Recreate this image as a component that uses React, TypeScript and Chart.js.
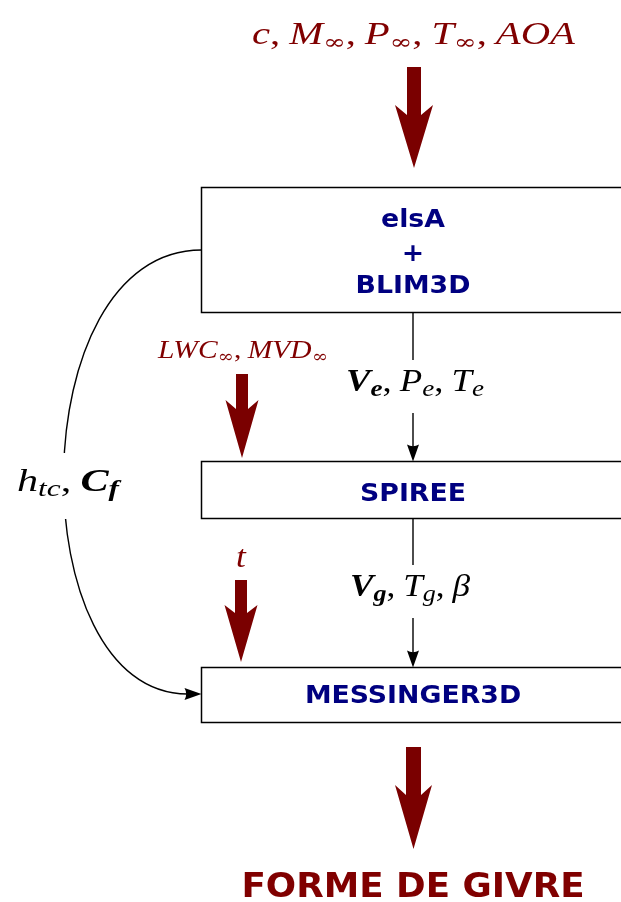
import React, { useEffect, useRef } from "react";
import { Chart, registerables } from "chart.js";
Chart.register(...registerables);

type Run = { t: string; it?: boolean; bf?: boolean; sub?: boolean; gap?: number; sym?: boolean };

// ---- content ----
const moduleNames: string[][] = [["elsA", "+", "BLIM3D"], ["SPIREE"], ["MESSINGER3D"]];
const INF: Run = { t: "∞", sub: true, sym: true };
const COMMA: Run = { t: ",", gap: 0.22 };
const freestreamLabel: Run[] = [
  { t: "c", it: true }, COMMA,
  { t: "M", it: true }, INF, COMMA,
  { t: "P", it: true }, INF, COMMA,
  { t: "T", it: true }, INF, COMMA,
  { t: "AOA", it: true },
];
const dropletLabel: Run[] = [
  { t: "LWC", it: true }, INF, COMMA,
  { t: "MVD", it: true }, INF,
];
const timeLabel: Run[] = [{ t: "t", it: true }];
const edgeLabel: Run[] = [
  { t: "V", it: true, bf: true }, { t: "e", it: true, bf: true, sub: true }, COMMA,
  { t: "P", it: true }, { t: "e", it: true, sub: true }, COMMA,
  { t: "T", it: true }, { t: "e", it: true, sub: true },
];
const wallLabel: Run[] = [
  { t: "V", it: true, bf: true }, { t: "g", it: true, bf: true, sub: true }, COMMA,
  { t: "T", it: true }, { t: "g", it: true, sub: true }, COMMA,
  { t: "β", it: true },
];
const feedbackLabel: Run[] = [
  { t: "h", it: true }, { t: "tc", it: true, sub: true }, COMMA,
  { t: "C", it: true, bf: true }, { t: "f", it: true, bf: true, sub: true },
];
const outputLabel = "FORME DE GIVRE";

// ---- layout (data-space coordinates, y downward) ----
const W = 621, H = 902;
const CX = 413;
const BOX_X0 = 201.5, BOX_X1 = 660;
const boxYs = [[187.5, 312.5], [461.5, 518.5], [667.5, 722.5]];
const moduleBaselines = [[227, 261, 293], [500.5], [703]];
const MODULE_FONT = 25;
const MODULE_SX = 1.07;
const NAVY = "#000080";
const MAROON = "#800000";
const ARROW_RED = "#7a0000";
const SERIF = '"Liberation Serif", "DejaVu Serif", serif';
const SYM = '"DejaVu Serif", serif';
const SANS = '"DejaVu Sans", sans-serif';

type Fat = { cx: number; top: number; barb: number; join: number; tip: number; sw: number; hw: number };
const fatArrows: Fat[] = [
  { cx: 414, top: 67, barb: 105, join: 115, tip: 168, sw: 7, hw: 19 },
  { cx: 242, top: 374, barb: 400, join: 409, tip: 458, sw: 6, hw: 16.5 },
  { cx: 241, top: 580, barb: 605, join: 613, tip: 662, sw: 6, hw: 16.5 },
  { cx: 413.5, top: 747, barb: 785, join: 795, tip: 849, sw: 7.5, hw: 18.5 },
];

type Place = { cx: number; base: number; size: number; w?: number };
const placeTop: Place = { cx: 413.5, base: 44, size: 31, w: 323 };
const placeDrop: Place = { cx: 243, base: 358, size: 25, w: 170 };
const placeTime: Place = { cx: 241, base: 567, size: 32 };
const placeEdge: Place = { cx: 415, base: 391, size: 31, w: 138 };
const placeWall: Place = { cx: 410, base: 596, size: 31, w: 120 };
const placeFeed: Place = { cx: 68, base: 491, size: 31, w: 102 };

function fontFor(r: Run, size: number) {
  const s = r.sub ? size * 0.74 : size;
  if (r.sym) return `${s * 0.9}px ${SYM}`;
  return `${r.it ? "italic " : ""}${r.bf ? "bold " : ""}${s}px ${SERIF}`;
}

function drawMath(ctx: CanvasRenderingContext2D, runs: Run[], p: Place, color: string, px: (v: number) => number, py: (v: number) => number) {
  const size = p.size;
  let total = 0;
  const widths: number[] = [];
  for (const r of runs) {
    ctx.font = fontFor(r, size);
    const w = ctx.measureText(r.t).width + (r.gap || 0) * size;
    widths.push(w);
    total += w;
  }
  const sx = p.w ? p.w / total : 1.1;
  const drawnW = total * sx;
  ctx.save();
  ctx.translate(px(p.cx) - drawnW / 2, py(p.base));
  ctx.scale(sx, 1);
  ctx.fillStyle = color;
  ctx.textAlign = "left";
  ctx.textBaseline = "alphabetic";
  let x = 0;
  runs.forEach((r, i) => {
    ctx.font = fontFor(r, size);
    ctx.fillText(r.t, x, r.sub ? size * 0.17 : 0);
    x += widths[i];
  });
  ctx.restore();
}

function drawStretched(ctx: CanvasRenderingContext2D, text: string, x: number, y: number, sx: number) {
  ctx.save();
  ctx.translate(x, y);
  ctx.scale(sx, 1);
  ctx.textAlign = "center";
  ctx.textBaseline = "alphabetic";
  ctx.fillText(text, 0, 0);
  ctx.restore();
}

const diagramPlugin = {
  id: "diagram",
  afterDraw(chart: any) {
    const ctx: CanvasRenderingContext2D = chart.ctx;
    const xs = chart.scales.x, ys = chart.scales.y;
    const px = (v: number) => xs.getPixelForValue(v);
    const py = (v: number) => ys.getPixelForValue(v);
    ctx.save();

    // boxes
    ctx.strokeStyle = "#000";
    ctx.lineWidth = 1.5;
    boxYs.forEach(([y0, y1]) => {
      ctx.strokeRect(px(BOX_X0), py(y0), px(BOX_X1) - px(BOX_X0), py(y1) - py(y0));
    });

    // module names
    ctx.fillStyle = NAVY;
    ctx.font = `bold ${MODULE_FONT}px ${SANS}`;
    moduleNames.forEach((lines, i) => {
      lines.forEach((ln, j) => drawStretched(ctx, ln, px(CX), py(moduleBaselines[i][j]), MODULE_SX));
    });

    // thin arrows
    const HL = 17, HW = 6;
    const headDown = (x: number, tipY: number) => {
      ctx.beginPath();
      ctx.moveTo(px(x), py(tipY));
      ctx.lineTo(px(x - HW), py(tipY - HL));
      ctx.quadraticCurveTo(px(x), py(tipY - HL * 0.8), px(x + HW), py(tipY - HL));
      ctx.closePath();
      ctx.fillStyle = "#000";
      ctx.fill();
    };
    const seg = (x0: number, y0: number, x1: number, y1: number) => {
      ctx.beginPath();
      ctx.moveTo(px(x0), py(y0));
      ctx.lineTo(px(x1), py(y1));
      ctx.stroke();
    };
    ctx.lineWidth = 1.4;
    seg(CX, boxYs[0][1], CX, 360);
    seg(CX, 413, CX, boxYs[1][0] - 10);
    headDown(CX, boxYs[1][0]);
    seg(CX, boxYs[1][1], CX, 565);
    seg(CX, 618, CX, boxYs[2][0] - 10);
    headDown(CX, boxYs[2][0]);

    // feedback curve
    ctx.beginPath();
    ctx.moveTo(px(BOX_X0), py(250));
    ctx.bezierCurveTo(px(20), py(250), px(20), py(694), px(BOX_X0 - 14), py(694));
    ctx.stroke();
    {
      const tipX = BOX_X0, y = 694;
      ctx.beginPath();
      ctx.moveTo(px(tipX), py(y));
      ctx.lineTo(px(tipX - HL), py(y - HW));
      ctx.quadraticCurveTo(px(tipX - HL * 0.8), py(y), px(tipX - HL), py(y + HW));
      ctx.closePath();
      ctx.fillStyle = "#000";
      ctx.fill();
    }
    // gap behind label
    ctx.fillStyle = "#fff";
    ctx.fillRect(px(8), py(453), px(130) - px(8), py(519) - py(453));

    // fat arrows
    ctx.fillStyle = ARROW_RED;
    fatArrows.forEach((a) => {
      ctx.beginPath();
      ctx.moveTo(px(a.cx - a.sw), py(a.top));
      ctx.lineTo(px(a.cx + a.sw), py(a.top));
      ctx.lineTo(px(a.cx + a.sw), py(a.join));
      ctx.lineTo(px(a.cx + a.hw), py(a.barb));
      ctx.lineTo(px(a.cx), py(a.tip));
      ctx.lineTo(px(a.cx - a.hw), py(a.barb));
      ctx.lineTo(px(a.cx - a.sw), py(a.join));
      ctx.closePath();
      ctx.fill();
    });

    // math labels
    drawMath(ctx, freestreamLabel, placeTop, MAROON, px, py);
    drawMath(ctx, dropletLabel, placeDrop, MAROON, px, py);
    drawMath(ctx, timeLabel, placeTime, MAROON, px, py);
    drawMath(ctx, edgeLabel, placeEdge, "#000", px, py);
    drawMath(ctx, wallLabel, placeWall, "#000", px, py);
    drawMath(ctx, feedbackLabel, placeFeed, "#000", px, py);

    // output
    ctx.fillStyle = MAROON;
    ctx.font = `bold 34px ${SANS}`;
    drawStretched(ctx, outputLabel, px(413), py(897), 1.05);

    ctx.restore();
  },
};

export default function App() {
  const ref = useRef<HTMLCanvasElement | null>(null);
  useEffect(() => {
    document.body.style.margin = "0";
    const canvas = ref.current!;
    const chart = new Chart(canvas, {
      type: "scatter",
      data: { datasets: [{ data: [], pointRadius: 0 }] },
      options: {
        animation: false,
        responsive: false,
        devicePixelRatio: 1,
        layout: { padding: 0 },
        plugins: { legend: { display: false }, tooltip: { enabled: false } },
        scales: {
          x: { type: "linear", min: 0, max: W, display: false },
          y: { type: "linear", min: 0, max: H, reverse: true, display: false },
        },
      },
      plugins: [diagramPlugin],
    });
    return () => chart.destroy();
  }, []);
  return (
    <div style={{ width: W, height: H, background: "#fff" }}>
      <canvas ref={ref} width={W} height={H} style={{ display: "block" }} />
    </div>
  );
}
